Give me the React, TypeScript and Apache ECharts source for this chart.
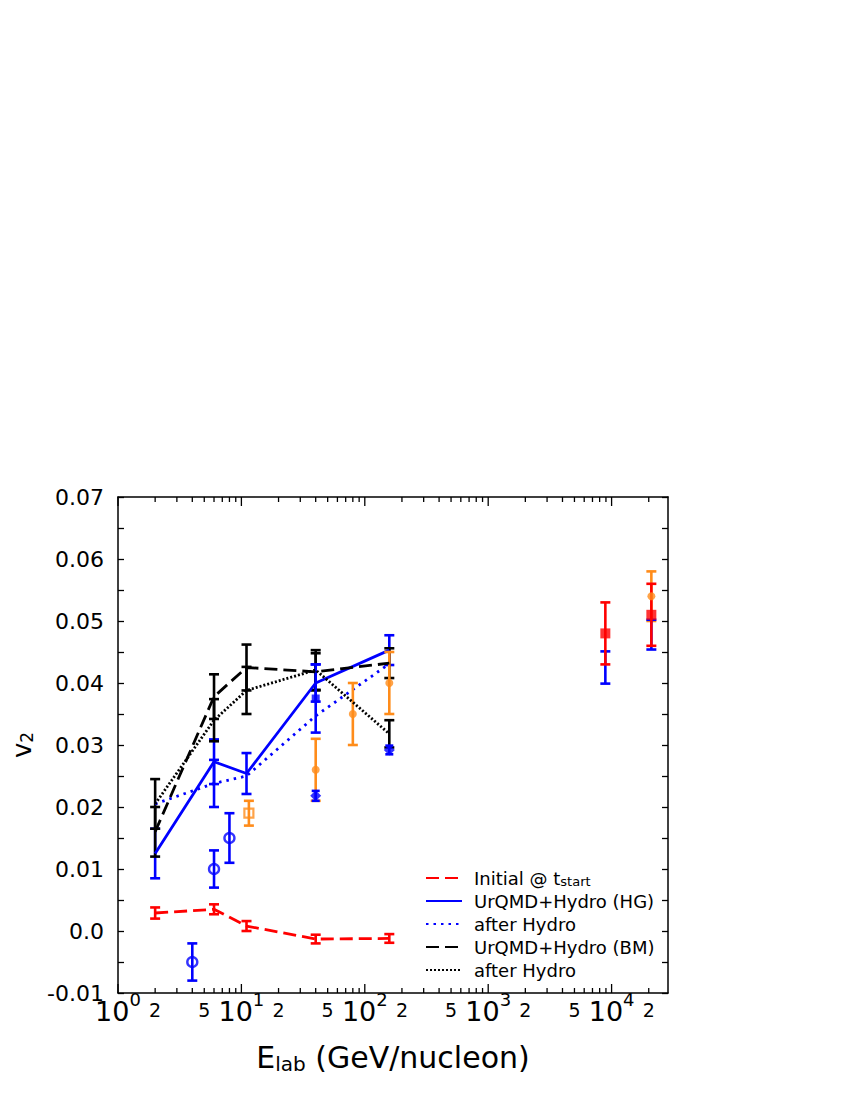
import React, { useEffect, useRef } from 'react';
import * as echarts from 'echarts';

// ---------- data ----------
const energies = [2, 6, 11, 40, 158];

const initialV2 = [0.0029, 0.0035, 0.0008, -0.0013, -0.0012];
const initialErr = [0.0009, 0.0008, 0.0008, 0.0007, 0.0007];

const hgV2 = [0.0125, 0.0273, 0.0254, 0.04, 0.0453];
const hgErr = [0.004, 0.0036, 0.0033, 0.003, 0.0024];

const hgAfterV2 = [0.0205, 0.0238, 0.025, 0.0347, 0.0431];
const hgAfterErr = [0, 0.0038, 0, 0, 0];

const bmV2 = [0.016, 0.0378, 0.0425, 0.0418, 0.0432];
const bmErr = [0.004, 0.0036, 0.0037, 0.003, 0.0024];

const bmAfterV2 = [0.0205, 0.034, 0.0388, 0.0421, 0.0318];
const bmAfterErr = [0.004, 0.0034, 0.0038, 0.0032, 0.0022];

// experimental points
const blueCircleE = [4, 6, 8];
const blueCircleV2 = [-0.005, 0.01, 0.015];
const blueCircleErr = [0.003, 0.003, 0.004];

const orangeSquareE = [11.5];
const orangeSquareV2 = [0.019];
const orangeSquareErr = [0.002];

const orangeCircleE = [40, 80, 158, 21000];
const orangeCircleV2 = [0.026, 0.035, 0.04, 0.054];
const orangeCircleErr = [0.005, 0.005, 0.005, 0.004];

const blueDiamondE = [40, 158];
const blueDiamondV2 = [0.0218, 0.0292];
const blueDiamondErr = [0.0008, 0.0007];

const blueSquareE = [40];
const blueSquareV2 = [0.0375];
const blueSquareErr = [0.0055];

const redSquareE = [8900, 21000];
const redSquareV2 = [0.048, 0.051];
const redSquareErr = [0.005, 0.005];

const blueRhicE = [8900, 21000];
const blueRhicV2 = [0.0425, 0.0478];
const blueRhicErr = [0.0026, 0.0024];

const seriesNames = [
  'Initial @ t_start',
  'UrQMD+Hydro (HG)',
  'after Hydro (HG)',
  'UrQMD+Hydro (BM)',
  'after Hydro (BM)',
];

// axis range and tick labels
const X_MIN = 1;
const X_MAX = 28650;
const Y_MIN = -0.01;
const Y_MAX = 0.07;
const Y_STEP = 0.01;
const decadeExponents = [0, 1, 2, 3, 4];
const labelMantissas = [1, 2, 5];
const minorMantissas = [2, 3, 4, 5, 6, 7, 8, 9];

// ---------- helpers ----------
const FONT = 'DejaVu Sans';
const RED = '#ff0000';
const BLUE = '#0000ff';
const ORANGE = '#ff8c1a';
const BLACK = '#000000';

const LOG_MAX = Math.log10(X_MAX);
const xLabelValues: number[] = [];
decadeExponents.forEach((d) => {
  labelMantissas.forEach((m) => {
    const v = d + Math.log10(m);
    if (v <= LOG_MAX + 1e-9) xLabelValues.push(v);
  });
});
// tick marks in data space: [E, tick length]
const xTickData: number[][] = [];
decadeExponents.forEach((d) => {
  const p = Math.pow(10, d);
  if (p <= X_MAX) xTickData.push([p, 9]);
  minorMantissas.forEach((m) => {
    if (m * p <= X_MAX) xTickData.push([m * p, 5]);
  });
});

const pairs = (xs: number[], ys: number[]) => xs.map((x, i) => [x, ys[i]]);
const bars = (xs: number[], ys: number[], es: number[]) =>
  xs
    .map((x, i) => [x, ys[i] - es[i], ys[i] + es[i], es[i]])
    .filter((r) => r[3] > 0)
    .map((r) => [r[0], r[1], r[2]]);

const errSeries = (data: number[][], color: string, cap = 5, lw = 2.6, z = 3) => ({
  type: 'custom',
  xAxisIndex: 0,
  yAxisIndex: 0,
  data,
  z,
  silent: true,
  encode: { x: 0, y: [1, 2] },
  renderItem: (_params: any, api: any) => {
    const x = api.value(0);
    const lo = api.coord([x, api.value(1)]);
    const hi = api.coord([x, api.value(2)]);
    const st = { stroke: color, lineWidth: lw };
    return {
      type: 'group',
      children: [
        { type: 'line', shape: { x1: lo[0], y1: lo[1], x2: hi[0], y2: hi[1] }, style: st },
        { type: 'line', shape: { x1: lo[0] - cap, y1: lo[1], x2: lo[0] + cap, y2: lo[1] }, style: st },
        { type: 'line', shape: { x1: hi[0] - cap, y1: hi[1], x2: hi[0] + cap, y2: hi[1] }, style: st },
      ],
    };
  },
});

const xTickSeries = {
  type: 'custom',
  xAxisIndex: 0,
  yAxisIndex: 0,
  data: xTickData,
  z: 10,
  silent: true,
  clip: false,
  encode: { x: 0 },
  renderItem: (_params: any, api: any) => {
    const e = api.value(0);
    const len = api.value(1);
    const b = api.coord([e, Y_MIN]);
    const t = api.coord([e, Y_MAX]);
    const st = { stroke: BLACK, lineWidth: 1.3 };
    return {
      type: 'group',
      children: [
        { type: 'line', shape: { x1: b[0], y1: b[1], x2: b[0], y2: b[1] - len }, style: st },
        { type: 'line', shape: { x1: t[0], y1: t[1], x2: t[0], y2: t[1] + len }, style: st },
      ],
    };
  },
};

const lineSeries = (name: string, ys: number[], color: string, type: any, z = 4) => ({
  type: 'line',
  name,
  xAxisIndex: 0,
  yAxisIndex: 0,
  data: pairs(energies, ys),
  symbol: 'none',
  z,
  lineStyle: { color, width: 2.8, type },
  itemStyle: { color },
});

const scatterSeries = (xs: number[], ys: number[], symbol: string, size: number, itemStyle: any) => ({
  type: 'scatter',
  xAxisIndex: 0,
  yAxisIndex: 0,
  data: pairs(xs, ys),
  symbol,
  symbolSize: size,
  itemStyle,
  z: 6,
  silent: true,
});

const xLabelFormatter = (val: number) => {
  const r = Math.round(val);
  if (Math.abs(val - r) < 1e-6) return `{b|10}{p|${r}}`;
  const m = Math.round(Math.pow(10, val - Math.floor(val)));
  return `{s|${m}}`;
};

const yAxisBase = {
  type: 'value',
  min: Y_MIN,
  max: Y_MAX,
  interval: Y_STEP,
  axisLine: { show: true, onZero: false, lineStyle: { color: BLACK, width: 1.5 } },
  axisTick: { show: true, inside: true, length: 6, lineStyle: { color: BLACK, width: 1.3 } },
  minorTick: { show: true, splitNumber: 2, length: 6, lineStyle: { color: BLACK, width: 1.3 } },
  splitLine: { show: false },
  minorSplitLine: { show: false },
};

const option: any = {
  animation: false,
  backgroundColor: '#ffffff',
  textStyle: { fontFamily: FONT },
  grid: { left: 118, top: 497, width: 550, height: 496, containLabel: false },
  legend: {
    orient: 'vertical',
    left: 420,
    top: 863,
    itemWidth: 36,
    itemHeight: 14,
    itemGap: 3,
    data: seriesNames,
    selectedMode: false,
    itemStyle: { opacity: 0 },
    textStyle: {
      fontFamily: FONT,
      fontSize: 18,
      color: '#000',
      lineHeight: 20,
      padding: [0, 0, 0, 7],
      rich: {
        s: { fontFamily: FONT, fontSize: 13, lineHeight: 14, padding: [7, 0, 0, 0], color: '#000' },
      },
    },
    formatter: (n: string) => {
      if (n === seriesNames[0]) return 'Initial @ t{s|start}';
      if (n.startsWith('after')) return 'after Hydro';
      return n;
    },
  },
  xAxis: [
    { type: 'log', logBase: 10, min: X_MIN, max: X_MAX, show: false, gridIndex: 0 },
    {
      type: 'value',
      min: 0,
      max: LOG_MAX,
      gridIndex: 0,
      position: 'bottom',
      splitLine: { show: false },
      axisLine: { show: true, onZero: false, lineStyle: { color: BLACK, width: 1.5 } },
      axisTick: { show: false },
      axisLabel: {
        show: true,
        interval: 0,
        customValues: xLabelValues,
        showMinLabel: true,
        margin: 2,
        color: '#000',
        formatter: xLabelFormatter,
        rich: {
          b: { fontFamily: FONT, fontSize: 27, lineHeight: 30, verticalAlign: 'bottom', color: '#000' },
          p: { fontFamily: FONT, fontSize: 18, lineHeight: 16, padding: [0, 0, 22, 0], color: '#000' },
          s: { fontFamily: FONT, fontSize: 19, lineHeight: 24, verticalAlign: 'bottom', color: '#000' },
        },
      },
      name: '{a|E}{s|lab}{a| (GeV/nucleon)}',
      nameLocation: 'middle',
      nameGap: 47,
      nameTextStyle: {
        rich: {
          a: { fontFamily: FONT, fontSize: 30, color: '#000', lineHeight: 34 },
          s: { fontFamily: FONT, fontSize: 20, color: '#000', lineHeight: 20, padding: [14, 0, 0, 0] },
        },
      },
    },
    {
      type: 'value',
      min: 0,
      max: LOG_MAX,
      gridIndex: 0,
      position: 'top',
      splitLine: { show: false },
      axisLine: { show: true, onZero: false, lineStyle: { color: BLACK, width: 1.5 } },
      axisTick: { show: false },
      axisLabel: { show: false },
    },
  ],
  yAxis: [
    {
      ...yAxisBase,
      position: 'left',
      axisLabel: {
        fontFamily: FONT,
        fontSize: 22,
        color: '#000',
        margin: 14,
        formatter: (v: number) => (Math.abs(v) < 1e-9 ? '0.0' : v.toFixed(2)),
      },
      name: '{v|v}{s|2}',
      nameLocation: 'middle',
      nameGap: 82,
      nameTextStyle: {
        rich: {
          v: { fontFamily: FONT, fontSize: 26, color: '#000', lineHeight: 28 },
          s: { fontFamily: FONT, fontSize: 17, color: '#000', lineHeight: 18, padding: [10, 0, 0, 0] },
        },
      },
    },
    {
      ...yAxisBase,
      position: 'right',
      axisLabel: { show: false },
    },
  ],
  series: [
    // model lines
    lineSeries(seriesNames[1], hgV2, BLUE, 'solid', 4),
    lineSeries(seriesNames[2], hgAfterV2, BLUE, [2.5, 5], 4),
    lineSeries(seriesNames[3], bmV2, BLACK, [13, 6], 5),
    lineSeries(seriesNames[4], bmAfterV2, BLACK, [2, 2], 5),
    lineSeries(seriesNames[0], initialV2, RED, [13, 6], 5),
    // model error bars
    errSeries(bars(energies, hgV2, hgErr), BLUE),
    errSeries(bars(energies, hgAfterV2, hgAfterErr), BLUE),
    errSeries(bars(energies, bmV2, bmErr), BLACK, 5, 2.6, 4),
    errSeries(bars(energies, bmAfterV2, bmAfterErr), BLACK, 5, 2.6, 4),
    errSeries(bars(energies, initialV2, initialErr), RED, 5, 2.6, 4),
    // experimental error bars
    errSeries(bars(blueCircleE, blueCircleV2, blueCircleErr), BLUE, 5, 2.6, 5),
    errSeries(bars(orangeSquareE, orangeSquareV2, orangeSquareErr), ORANGE, 5, 2.6, 5),
    errSeries(bars(orangeCircleE, orangeCircleV2, orangeCircleErr), ORANGE, 5, 2.6, 5),
    errSeries(bars(blueDiamondE, blueDiamondV2, blueDiamondErr), BLUE, 4, 2.6, 5),
    errSeries(bars(blueSquareE, blueSquareV2, blueSquareErr), BLUE, 5, 2.6, 5),
    errSeries(bars(blueRhicE, blueRhicV2, blueRhicErr), BLUE, 5, 2.6, 5),
    errSeries(bars(redSquareE, redSquareV2, redSquareErr), RED, 5, 2.6, 5),
    // experimental markers
    scatterSeries(blueCircleE, blueCircleV2, 'circle', 10, { color: 'rgba(0,0,0,0)', borderColor: BLUE, borderWidth: 2.4 }),
    scatterSeries(orangeSquareE, orangeSquareV2, 'rect', 9, { color: 'rgba(0,0,0,0)', borderColor: ORANGE, borderWidth: 2.2 }),
    scatterSeries(orangeCircleE, orangeCircleV2, 'circle', 8, { color: ORANGE }),
    scatterSeries(blueDiamondE, blueDiamondV2, 'diamond', 11, { color: BLUE }),
    scatterSeries(blueSquareE, blueSquareV2, 'rect', 8, { color: BLUE }),
    scatterSeries(redSquareE, redSquareV2, 'rect', 10, { color: RED }),
    // x-axis tick marks (bottom and top, inward)
    xTickSeries,
  ],
};

export default function App() {
  const ref = useRef<HTMLDivElement>(null);
  useEffect(() => {
    if (!ref.current) return;
    const chart = echarts.init(ref.current, null, { renderer: 'svg' });
    chart.setOption(option);
    return () => chart.dispose();
  }, []);
  return (
    <div
      ref={ref}
      style={{ position: 'absolute', left: 0, top: 0, width: 850, height: 1100, background: '#fff' }}
    />
  );
}
